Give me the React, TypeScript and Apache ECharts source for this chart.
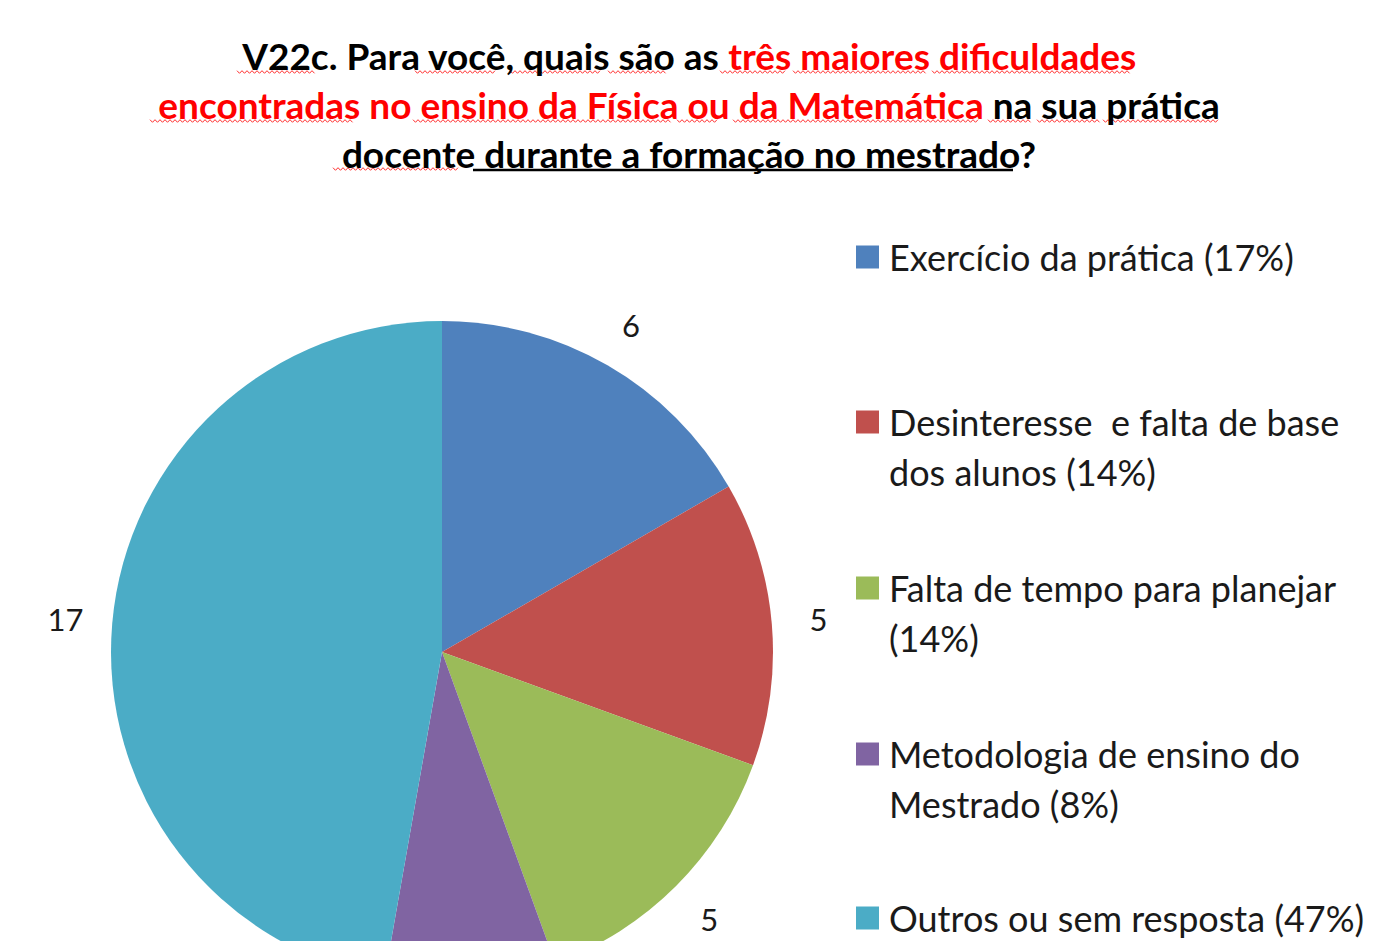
import React, { useEffect, useRef } from "react";
import * as echarts from "echarts";

const categories = [
  "Exercício da prática",
  "Desinteresse  e falta de base\ndos alunos",
  "Falta de tempo para planejar\n",
  "Metodologia de ensino do\nMestrado",
  "Outros ou sem resposta",
];
const values = [6, 5, 5, 3, 17];
const colors = ["#4F81BD", "#C0504D", "#9BBB59", "#8064A2", "#4BACC6"];

const titleLines = [
  "{k|V22c. Para você, quais são as }{r|três maiores dificuldades}",
  "{r|encontradas no ensino da Física ou da Matemática}{k| na sua prática}",
  "{k|docente durante a formação no mestrado?}",
];

// spell-check style wavy underlines under the title words: [x0, x1, y]
const squiggles = [
  [237, 315, 72], [415, 495, 72], [510, 600, 72], [608, 667, 72],
  [720, 787, 72], [793, 927, 72], [932, 1130, 72],
  [150, 353, 121], [413, 672, 121], [677, 717, 121], [733, 978, 121],
  [988, 1032, 121], [1037, 1100, 121], [1103, 1218, 121],
  [333, 460, 169],
];

const FONT = "Lato";

function zigzag(x0: number, x1: number, y: number) {
  const pts: number[][] = [];
  let up = true;
  for (let x = x0; x <= x1; x += 2.5) {
    pts.push([x, up ? y - 1.3 : y + 1.3]);
    up = !up;
  }
  return pts;
}

export default function App() {
  const ref = useRef<HTMLDivElement>(null);
  useEffect(() => {
    if (!ref.current) return;
    const chart = echarts.init(ref.current, undefined, { renderer: "svg" });
    const total = values.reduce((a, b) => a + b, 0);
    const legendText = (name: string) => {
      const i = categories.indexOf(name);
      const pct = Math.round((values[i] / total) * 100);
      const multi = name.includes("\n");
      return (multi ? "\n" : "") + name + (name.endsWith("\n") ? "" : " ") + "(" + pct + "%)";
    };
    const legendCenters = [257, 422, 588, 754, 918];
    const legends = categories.map((c, i) => {
      const multi = c.includes("\n");
      return {
        orient: "vertical",
        left: 856,
        padding: 0,
        top: multi ? legendCenters[i] - 75 : legendCenters[i] - 25,
        data: [c],
        icon: "rect",
        itemWidth: 23,
        itemHeight: 23,
        selectedMode: false,
        formatter: legendText,
        textStyle: {
          fontFamily: FONT,
          fontSize: 36,
          color: "#1a1a1a",
          lineHeight: 50,
          padding: [0, 0, 0, 5],
        },
      };
    });
    const titles = titleLines.map((t, i) => ({
      text: t,
      left: "center",
      padding: 0,
      top: 55 + i * 49 - 20,
      textStyle: {
        rich: {
          k: { fontFamily: FONT, fontWeight: "bold", fontSize: 37, color: "#000", lineHeight: 40 },
          r: { fontFamily: FONT, fontWeight: "bold", fontSize: 37, color: "#FF0000", lineHeight: 40 },
        },
      },
    }));
    const graphics: any[] = squiggles.map(([x0, x1, y]) => ({
      type: "polyline",
      silent: true,
      shape: { points: zigzag(x0, x1, y) },
      style: { stroke: "#FF3030", lineWidth: 1, fill: null },
    }));
    graphics.push({
      type: "line",
      silent: true,
      shape: { x1: 473, y1: 170, x2: 1013, y2: 170 },
      style: { stroke: "#000", lineWidth: 2.5 },
    });
    chart.setOption({
      animation: false,
      backgroundColor: "#ffffff",
      color: colors,
      title: titles,
      legend: legends,
      graphic: graphics,
      series: [
        {
          type: "pie",
          center: [442, 652],
          radius: [0, 331],
          startAngle: 90,
          clockwise: true,
          silent: true,
          label: { show: false },
          labelLine: { show: false },
          data: categories.map((c, i) => ({ name: c, value: values[i] })),
        },
        {
          type: "pie",
          center: [442, 652],
          radius: [366, 384],
          startAngle: 90,
          clockwise: true,
          silent: true,
          itemStyle: { color: "transparent" },
          label: {
            show: true,
            position: "inside",
            formatter: "{c}",
            fontFamily: FONT,
            fontSize: 31,
            color: "#1a1a1a",
          },
          labelLine: { show: false },
          data: categories.map((c, i) => ({ name: c, value: values[i] })),
        },
      ],
    });
    return () => chart.dispose();
  }, []);
  return (
    <div
      ref={ref}
      style={{ position: "absolute", left: 0, top: 0, width: 1378, height: 941 }}
    />
  );
}
